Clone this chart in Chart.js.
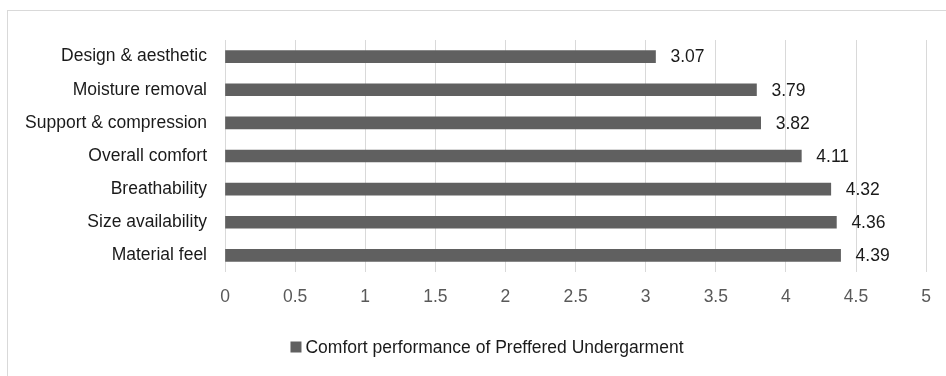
<!DOCTYPE html>
<html>
<head>
<meta charset="utf-8">
<script src="https://cdn.jsdelivr.net/npm/chart.js@4.4.1/dist/chart.umd.min.js"></script>
<style>
    body { margin: 0; background: #fff; }
    #wrap { position: relative; width: 946px; height: 376px; overflow: hidden; }
    #frame { position: absolute; left: 7px; top: 10px; width: 980px; height: 420px; border: 1px solid #d9d9d9; }
    #chart { position: absolute; left: 0; top: 0; }
</style>
</head>
<body>
<div id="wrap">
    <div id="frame"></div>
    <canvas id="chart" width="946" height="376"></canvas>
</div>
<script>
const categories = ["Design & aesthetic", "Moisture removal", "Support & compression",
    "Overall comfort", "Breathability", "Size availability", "Material feel"];
const scores = [3.07, 3.79, 3.82, 4.11, 4.32, 4.36, 4.39];
const seriesName = "Comfort performance of Preffered Undergarment";
const xMin = 0, xMax = 5, xStep = 0.5;

const fontFamily = "'Liberation Sans', Arial, sans-serif";
const textFont = "17.5px " + fontFamily;

// value labels to the right of each bar
const barLabels = {
    id: 'barLabels',
    afterDatasetsDraw(chart) {
        const ctx = chart.ctx;
        const meta = chart.getDatasetMeta(0);
        ctx.save();
        ctx.font = textFont;
        ctx.fillStyle = "#1a1a1a";
        ctx.textBaseline = "middle";
        ctx.textAlign = "left";
        meta.data.forEach(function (bar, i) {
            ctx.fillText(scores[i].toFixed(2), bar.x + 15, bar.y + 1);
        });
        ctx.restore();
    }
};

// legend below the axis, small gap between swatch and text (like Excel)
const bottomLegend = {
    id: 'bottomLegend',
    afterDraw(chart) {
        const ctx = chart.ctx;
        const ds = chart.data.datasets[0];
        ctx.save();
        ctx.font = textFont;
        const tw = ctx.measureText(ds.label).width;
        const box = 11, gap = 4;
        const total = box + gap + tw;
        const x0 = chart.width / 2 + 14 - total / 2;
        const y = chart.chartArea.bottom + 75;
        ctx.fillStyle = ds.backgroundColor;
        ctx.fillRect(x0, y - box / 2, box, box);
        ctx.fillStyle = "#1a1a1a";
        ctx.textBaseline = "middle";
        ctx.fillText(ds.label, x0 + box + gap, y + 1);
        ctx.restore();
    }
};

let ctx = document.getElementById("chart").getContext("2d");
new Chart(ctx, {
    type: 'bar',
    data: {
        labels: categories,
        datasets: [{
            label: seriesName,
            data: scores,
            backgroundColor: "#606060",
            borderWidth: 0,
            barThickness: 12
        }]
    },
    options: {
        indexAxis: 'y',
        responsive: false,
        animation: false,
        layout: { padding: { left: 0, right: 12, top: 40, bottom: 48 } },
        scales: {
            x: {
                min: xMin,
                max: xMax,
                afterFit: function (scale) { scale.height = 56; },
                ticks: {
                    stepSize: xStep,
                    color: "#595959",
                    padding: 15,
                    maxRotation: 0,
                    font: { family: fontFamily, size: 17.5 },
                    callback: function (value) { return String(value); }
                },
                grid: { color: "#d9d9d9", lineWidth: 1, drawTicks: false },
                border: { display: false }
            },
            y: {
                afterFit: function (scale) { scale.width = 225; },
                ticks: {
                    color: "#1a1a1a",
                    padding: 10,
                    font: { family: fontFamily, size: 17.5 }
                },
                grid: { display: false },
                border: { display: false }
            }
        },
        plugins: {
            legend: { display: false },
            tooltip: { enabled: false }
        }
    },
    plugins: [barLabels, bottomLegend]
});
</script>
</body>
</html>
